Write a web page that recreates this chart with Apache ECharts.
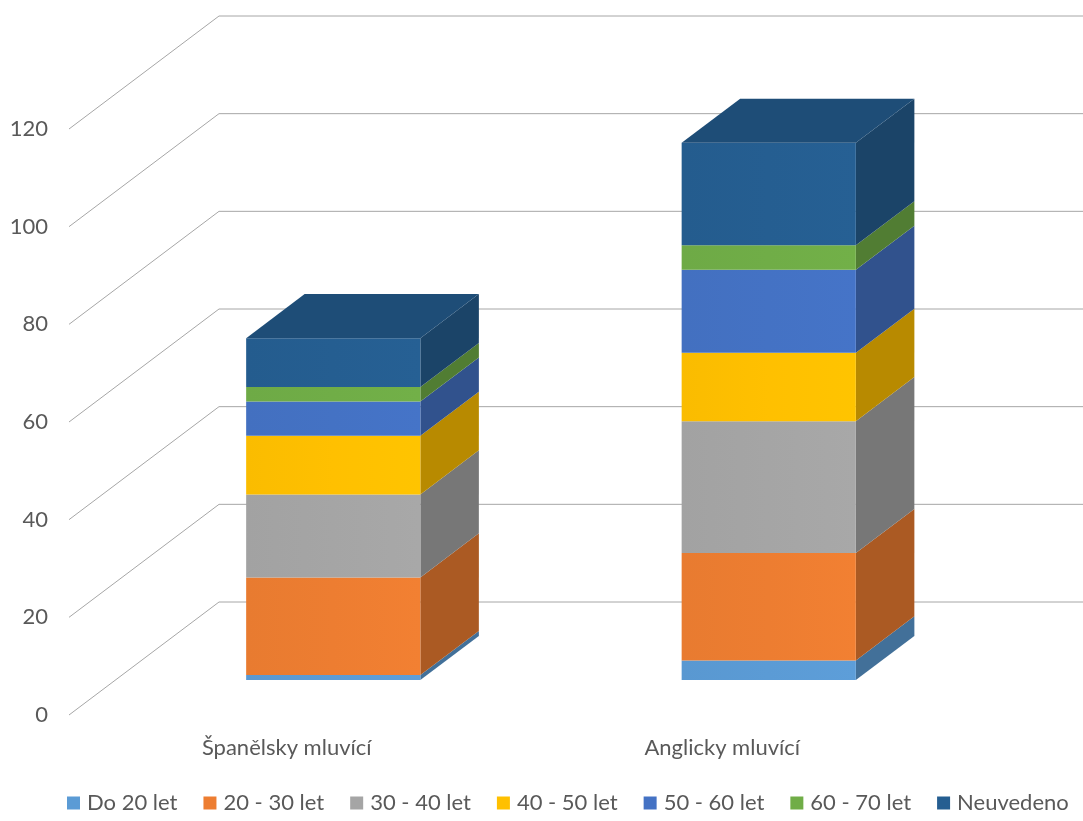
<!DOCTYPE html>
<html><head><meta charset="utf-8">
<script src="https://cdn.jsdelivr.net/npm/echarts@6/dist/echarts.min.js"></script>
<style>html,body{margin:0;padding:0;background:#fff}#c{width:1083px;height:821px}</style>
</head><body><div id="c"></div>
<script>
const categories = ['Španělsky mluvící', 'Anglicky mluvící'];
const seriesNames = ['Do 20 let', '20 - 30 let', '30 - 40 let', '40 - 50 let', '50 - 60 let', '60 - 70 let', 'Neuvedeno'];
const do20 = [1, 4];
const v20_30 = [20, 22];
const v30_40 = [17, 27];
const v40_50 = [12, 14];
const v50_60 = [7, 17];
const v60_70 = [3, 5];
const neuvedeno = [10, 21];
const yTicks = [0, 20, 40, 60, 80, 100, 120];
const colors = ['#5B9BD5', '#ED7D31', '#A5A5A5', '#FFC000', '#4472C4', '#70AD47', '#255E91'];

const allValues = [do20, v20_30, v30_40, v40_50, v50_60, v60_70, neuvedeno];
const DEPTH = [150, -113];   // label plane -> back wall
const F_FRONT = 0.31, F_BACK = 0.70;
const FONT = 'Lato';
const TXT = '#595959';

function shade(hex, f) {
  const n = parseInt(hex.slice(1), 16);
  const cl = v => Math.max(0, Math.min(255, Math.round(v)));
  const r = cl(((n >> 16) & 255) * f), g = cl(((n >> 8) & 255) * f), b = cl((n & 255) * f);
  return 'rgb(' + r + ',' + g + ',' + b + ')';
}

function barRender(k) {
  return function (params, api) {
    const ci = api.value(0), base = api.value(1), val = api.value(2);
    const p0 = api.coord([ci, base]);
    const p1 = api.coord([ci, base + val]);
    const bw = api.size([1, 0])[0] * 0.4;
    const fx = DEPTH[0] * F_FRONT, fy = DEPTH[1] * F_FRONT;
    const bx = DEPTH[0] * (F_BACK - F_FRONT), by = DEPTH[1] * (F_BACK - F_FRONT);
    const L = p0[0] - bw / 2 + fx, R = p0[0] + bw / 2 + fx;
    const yb = p0[1] + fy, yt = p1[1] + fy;
    const c = colors[k];
    const children = [
      { type: 'polygon', shape: { points: [[R, yb], [R, yt], [R + bx, yt + by], [R + bx, yb + by]] },
        style: { fill: shade(c, 0.72) } },
      { type: 'rect', shape: { x: L, y: yt, width: R - L, height: yb - yt },
        style: { fill: new echarts.graphic.LinearGradient(0, 0, 1, 0, [
          { offset: 0, color: shade(c, 0.98) }, { offset: 0.5, color: c }, { offset: 1, color: shade(c, 1.02) }]) } }
    ];
    if (k === allValues.length - 1) {
      children.push({ type: 'polygon', shape: { points: [[L, yt], [R, yt], [R + bx, yt + by], [L + bx, yt + by]] },
        style: { fill: shade(c, 0.82) } });
    }
    return { type: 'group', children: children };
  };
}

function gridRender(params, api) {
  const v = api.value(0);
  const cs = params.coordSys;
  const p = api.coord([0, v]);
  const x0 = cs.x, y0 = p[1];
  return {
    type: 'polyline',
    shape: { points: [[x0, y0], [x0 + DEPTH[0], y0 + DEPTH[1]], [api.getWidth(), y0 + DEPTH[1]]] },
    style: { stroke: '#a6a6a6', lineWidth: 1, fill: null }
  };
}

const series = [{
  type: 'custom', name: '_grid', silent: true, z: 0,
  data: yTicks.map(v => [v]), encode: { y: 0 },
  renderItem: gridRender
}];
allValues.forEach((arr, k) => {
  const data = arr.map((v, ci) => {
    let base = 0;
    for (let j = 0; j < k; j++) base += allValues[j][ci];
    return [ci, base, v];
  });
  series.push({
    type: 'custom', name: seriesNames[k], z: 2,
    itemStyle: { color: colors[k] },
    data: data, encode: { x: 0, y: [1, 2] },
    renderItem: barRender(k)
  });
});

const chart = echarts.init(document.getElementById('c'), null, { renderer: 'canvas' });
chart.setOption({
  animation: false,
  grid: { left: 69, width: 871, top: 129, bottom: 106 },
  xAxis: { type: 'category', data: categories,
    axisLine: { show: false }, axisTick: { show: false },
    axisLabel: { color: TXT, fontFamily: FONT, fontSize: 22, margin: 22 } },
  yAxis: { type: 'value', min: 0, max: 120, interval: 20,
    splitLine: { show: false }, axisLine: { show: false }, axisTick: { show: false },
    axisLabel: { color: TXT, fontFamily: FONT, fontSize: 22, margin: 21 } },
  legend: { data: seriesNames, bottom: 2, left: 62, icon: 'rect', itemWidth: 13, itemHeight: 13, itemGap: 26,
    textStyle: { color: TXT, fontFamily: FONT, fontSize: 22, padding: [0, 0, 0, 2] } },
  series: series
});
</script></body></html>
